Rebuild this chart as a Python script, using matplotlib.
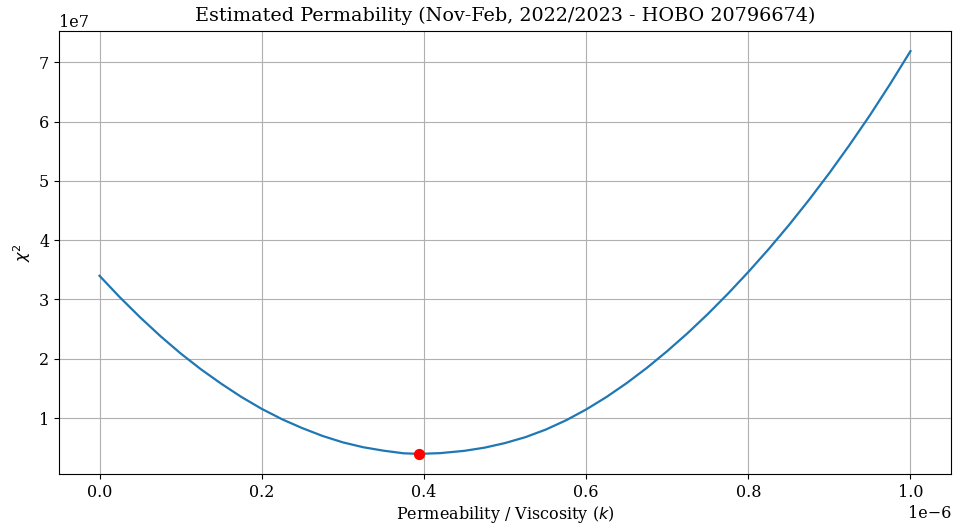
import matplotlib
matplotlib.use("Agg")
import matplotlib.pyplot as plt

plt.rcParams["font.family"] = "DejaVu Serif"
plt.rcParams["font.size"] = 11.5

# permeability / viscosity values (units of 1e-6)
k_vals = [0.000, 0.025, 0.050, 0.075, 0.100, 0.125, 0.150, 0.175, 0.200, 0.225,
          0.250, 0.275, 0.300, 0.325, 0.350, 0.375, 0.394, 0.420, 0.450, 0.475,
          0.500, 0.525, 0.550, 0.575, 0.600, 0.625, 0.650, 0.675, 0.700, 0.725,
          0.750, 0.775, 0.800, 0.825, 0.850, 0.875, 0.900, 0.925, 0.950, 0.975,
          1.000]
# chi-square values (units of 1e7)
chi2_vals = [3.400, 3.038, 2.700, 2.383, 2.090, 1.823, 1.580, 1.355, 1.155, 0.980,
             0.830, 0.698, 0.590, 0.508, 0.450, 0.405, 0.396, 0.408, 0.447, 0.501,
             0.578, 0.677, 0.804, 0.960, 1.144, 1.354, 1.589, 1.847, 2.129, 2.430,
             2.754, 3.099, 3.464, 3.848, 4.254, 4.683, 5.134, 5.610, 6.109, 6.637,
             7.190]

best_k = 0.394
best_chi2 = 0.396

k = [v * 1e-6 for v in k_vals]
chi2 = [v * 1e7 for v in chi2_vals]

fig, ax = plt.subplots(figsize=(9.56, 5.29), dpi=100)
fig.subplots_adjust(left=0.0617, right=0.9948, top=0.9414, bottom=0.104)

ax.plot(k, chi2, color="#1f77b4", linewidth=1.6)
ax.scatter([best_k * 1e-6], [best_chi2 * 1e7], color="red", s=50, zorder=3)

ax.set_title("Estimated Permability (Nov-Feb, 2022/2023 - HOBO 20796674)",
             fontsize=13.8, pad=7.5)
ax.set_xlabel("Permeability / Viscosity ($k$)", labelpad=2.5)
ax.set_ylabel("$\\chi^2$")
ax.grid(True)

fig.savefig("out.png", dpi=100)
